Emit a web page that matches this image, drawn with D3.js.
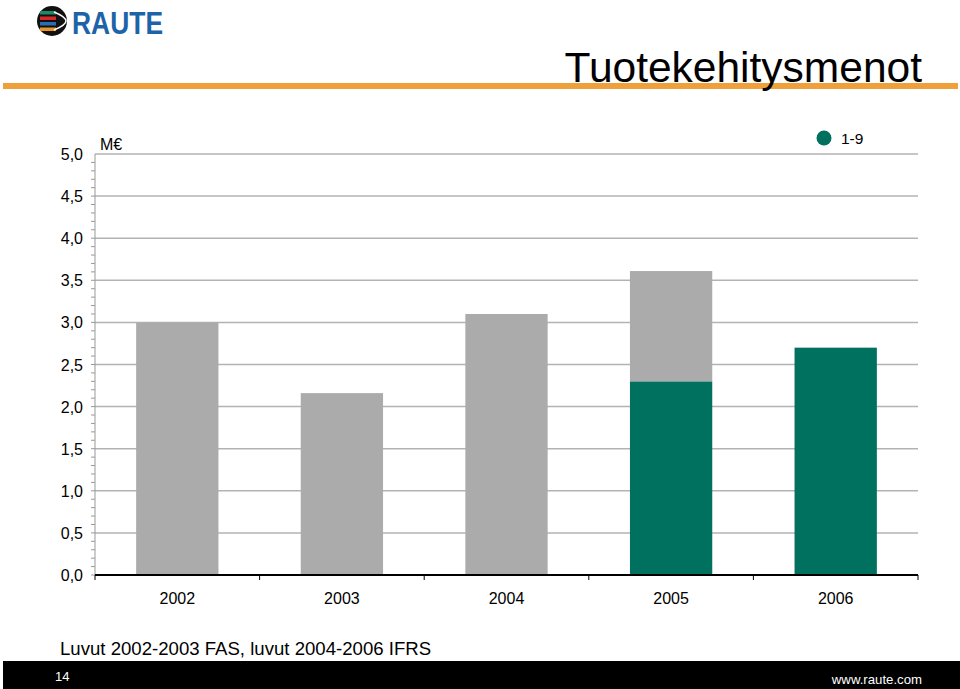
<!DOCTYPE html>
<html>
<head>
<meta charset="utf-8">
<script src="https://cdn.jsdelivr.net/npm/d3@7"></script>
<style>
  body { margin: 0; background: #fff; }
  text { font-family: "Liberation Sans", Arial, sans-serif; }
</style>
</head>
<body>
<div id="chart"></div>
<script>
// data
const years = ["2002", "2003", "2004", "2005", "2006"];
const greenValues = [0, 0, 0, 2.3, 2.7];        // 1-9
const greyValues = [3.0, 2.16, 3.1, 1.31, 0];   // muut
const yTicks = [0, 0.5, 1, 1.5, 2, 2.5, 3, 3.5, 4, 4.5, 5];
const legendLabel = "1-9";

const W = 960, H = 689;
const svg = d3.select("#chart")
              .append("svg")
              .attr("width", W)
              .attr("height", H);

// header: logo, orange rule, title
const logo = svg.append("g").attr("transform", "translate(52,21)");
logo.append("circle").attr("r", 15).attr("fill", "#111");
const stripeCols = ["#1a8a6a", "#d62828", "#2a6db5", "#e8952a"];
stripeCols.forEach((c, i) => {
    logo.append("rect")
        .attr("x", -12).attr("y", -10 + i * 5.5)
        .attr("width", 16).attr("height", 3.5)
        .attr("fill", c);
});
logo.append("path")
    .attr("d", "M2,-9 Q14,-4 14,0 Q14,4 2,9")
    .attr("fill", "none").attr("stroke", "#fff").attr("stroke-width", 1.5);
svg.append("text")
   .attr("x", 72).attr("y", 34)
   .attr("font-size", 32).attr("font-weight", "bold")
   .attr("fill", "#1d63a8")
   .attr("textLength", 91).attr("lengthAdjust", "spacingAndGlyphs")
   .text("RAUTE");

svg.append("rect")
   .attr("x", 3).attr("y", 83)
   .attr("width", 955).attr("height", 6)
   .attr("fill", "#f0a03a");

svg.append("text")
   .attr("x", 922).attr("y", 82)
   .attr("text-anchor", "end")
   .attr("font-size", 42.5)
   .attr("fill", "#000")
   .text("Tuotekehitysmenot");

// chart area
const margin = {top: 154, left: 95, right: 42, bottom: 114};
const width = W - margin.left - margin.right,
      height = H - margin.top - margin.bottom;
const g = svg.append("g")
             .attr("transform", "translate(" + margin.left + "," + margin.top + ")");

const x = d3.scaleBand().domain(years).range([0, width]).paddingInner(0.5).paddingOuter(0.25);
const y = d3.scaleLinear().domain([0, 5]).range([height, 0]);

// gridlines
g.selectAll(".grid")
 .data(yTicks.filter(d => d > 0))
 .enter()
 .append("line")
 .attr("x1", 0).attr("x2", width)
 .attr("y1", d => y(d)).attr("y2", d => y(d))
 .attr("stroke", "#b3b3b3").attr("stroke-width", 1.5);

// minor ticks on y axis
const minor = d3.range(0, 50).map(i => i / 10);
g.selectAll(".minor")
 .data(minor)
 .enter()
 .append("line")
 .attr("x1", -4).attr("x2", 0)
 .attr("y1", d => y(d)).attr("y2", d => y(d))
 .attr("stroke", "#999").attr("stroke-width", 1);
g.append("line")
 .attr("x1", 0).attr("x2", 0).attr("y1", 0).attr("y2", height)
 .attr("stroke", "#999");

// stacked bars
const stackData = years.map((yr, i) => ({year: yr, green: greenValues[i], grey: greyValues[i]}));
const series = d3.stack().keys(["green", "grey"])(stackData);
const colors = {green: "#00705f", grey: "#ababab"};
g.selectAll(".series")
 .data(series)
 .enter()
 .append("g")
 .attr("fill", d => colors[d.key])
 .selectAll("rect")
 .data(d => d)
 .enter()
 .append("rect")
 .attr("x", d => x(d.data.year))
 .attr("width", x.bandwidth())
 .attr("y", d => y(d[1]))
 .attr("height", d => y(d[0]) - y(d[1]));

// y labels
g.selectAll(".ylab")
 .data(yTicks)
 .enter()
 .append("text")
 .attr("x", -12).attr("y", d => y(d) + 6)
 .attr("text-anchor", "end")
 .attr("font-size", 16)
 .text(d => d.toFixed(1).replace(".", ","));

g.append("text")
 .attr("x", 5).attr("y", -4)
 .attr("font-size", 16)
 .text("M€");

// x axis
g.append("line")
 .attr("x1", 0).attr("x2", width)
 .attr("y1", height).attr("y2", height)
 .attr("stroke", "#000").attr("stroke-width", 2);
g.selectAll(".xtick")
 .data(d3.range(0, years.length + 1))
 .enter()
 .append("line")
 .attr("x1", i => i * width / years.length)
 .attr("x2", i => i * width / years.length)
 .attr("y1", height).attr("y2", height + 5)
 .attr("stroke", "#000");
g.selectAll(".xlab")
 .data(years)
 .enter()
 .append("text")
 .attr("x", d => x(d) + x.bandwidth() / 2)
 .attr("y", height + 29)
 .attr("text-anchor", "middle")
 .attr("font-size", 16)
 .text(d => d);

// legend
svg.append("circle").attr("cx", 824).attr("cy", 138).attr("r", 7.5).attr("fill", colors.green);
svg.append("text").attr("x", 841).attr("y", 144).attr("font-size", 15.5).text(legendLabel);

// footnote
svg.append("text")
   .attr("x", 60).attr("y", 655)
   .attr("font-size", 18.6)
   .text("Luvut 2002-2003 FAS, luvut 2004-2006 IFRS");

// footer bar
svg.append("rect")
   .attr("x", 3).attr("y", 661)
   .attr("width", 957).attr("height", 28)
   .attr("fill", "#000");
svg.append("text")
   .attr("x", 55).attr("y", 681)
   .attr("font-size", 13).attr("fill", "#fff")
   .text("14");
svg.append("text")
   .attr("x", 922).attr("y", 684)
   .attr("text-anchor", "end")
   .attr("font-size", 13.2).attr("fill", "#fff")
   .text("www.raute.com");
</script>
</body>
</html>
